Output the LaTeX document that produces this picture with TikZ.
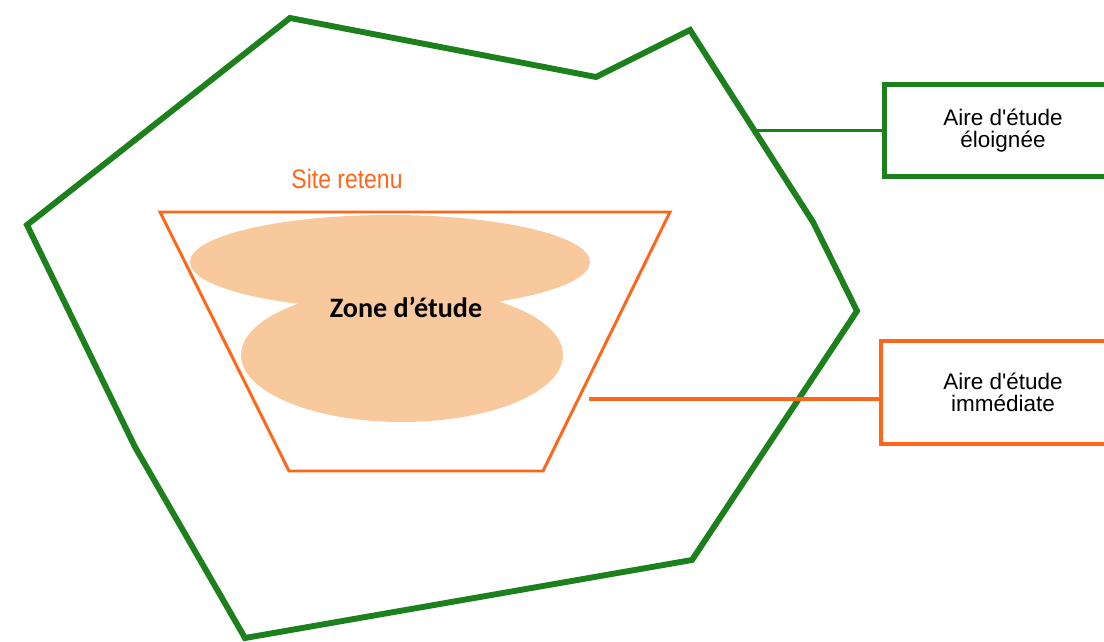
\documentclass[tikz,border=0pt]{standalone}
\usepackage{fontspec}
\setmainfont{Liberation Sans}
\newfontfamily\zonefont{Carlito}
\newfontfamily\narrowfont{Liberation Sans}[FakeStretch=0.86]
\usetikzlibrary{positioning}
\definecolor{areagreen}{RGB}{28,128,28}
\definecolor{siteorange}{RGB}{255,102,26}
\definecolor{zonefill}{RGB}{249,201,158}

\begin{document}
\begin{tikzpicture}[
    x=0.025cm, y=-0.025cm,
    outer/.style={draw=areagreen, line width=4.2pt},
    site/.style={draw=siteorange, line width=2.1pt},
    keybox/.style={rectangle, fill=white, inner sep=0pt, align=center, font=\fontsize{16}{16}\selectfont},
    link/.style={line width=2.3pt}
]
    \path[use as bounding box, clip] (0,0) rectangle (1104,642);

    % study zone blobs
    \fill[zonefill] (390,262) ellipse [x radius=200, y radius=47];
    \fill[zonefill] (402,355) ellipse [x radius=161, y radius=67];
    \node (zone) [font=\zonefont\bfseries\fontsize{20}{20}\selectfont] at (406,307) {Zone d’étude};

    % selected site
    \draw[site] (160,212) -- (670,212) -- (543,471) -- (289,471) -- cycle;
    \node (site) [text=siteorange, font=\narrowfont\fontsize{19}{19}\selectfont] at (347,179) {Site retenu};

    % far study area
    \draw[outer] (290,18) -- (596,77) -- (690,30) -- (813,222) -- (857,311) -- (692,560)
        -- (245,638) -- (135,447) -- (27,225) -- cycle;

    % legend boxes
    \node (far) [keybox, draw=areagreen, line width=3.3pt, minimum width=5.93cm, minimum height=2.3cm] at (1003,130.5) {Aire d\textquotesingle étude\\éloignée};
    \node (near) [keybox, draw=siteorange, line width=2.8pt, minimum width=6.1cm, minimum height=2.575cm, below=4.0cm of far] {Aire d\textquotesingle étude\\immédiate};

    \coordinate (edge) at (756,130.5);
    \coordinate (cut) at (589,399);
    \draw[link, areagreen] (edge) -- (far.west);
    \draw[link, siteorange] (cut) -- (cut -| near.west);
\end{tikzpicture}
\end{document}
